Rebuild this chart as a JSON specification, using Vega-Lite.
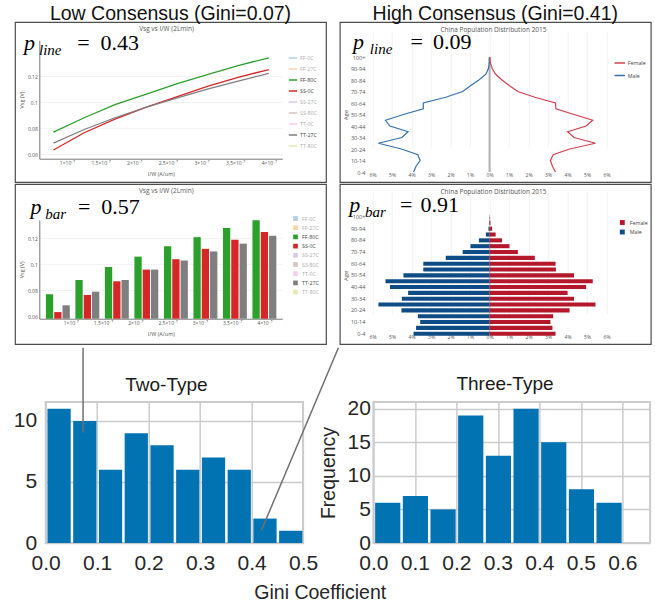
{
  "$schema": "https://vega.github.io/schema/vega-lite/v6.json",
  "padding": {"left": 12, "top": 2, "right": 0, "bottom": 0},
  "columns": 1,
  "align": "none",
  "spacing": 0,
  "resolve": {"scale": {"color": "independent"}, "legend": {"color": "independent"}},
  "config": {"view": {"stroke": null}, "font": "Open Sans"},
  "datasets": {
    "vsg": [
      {"iw": 8e-8, "series": "FF-80C", "vsg": 0.077},
      {"iw": 1.257e-7, "series": "FF-80C", "vsg": 0.088},
      {"iw": 1.714e-7, "series": "FF-80C", "vsg": 0.098},
      {"iw": 2.171e-7, "series": "FF-80C", "vsg": 0.106},
      {"iw": 2.629e-7, "series": "FF-80C", "vsg": 0.114},
      {"iw": 3.086e-7, "series": "FF-80C", "vsg": 0.121},
      {"iw": 3.543e-7, "series": "FF-80C", "vsg": 0.128},
      {"iw": 4e-7, "series": "FF-80C", "vsg": 0.134},
      {"iw": 8e-8, "series": "SS-0C", "vsg": 0.0633},
      {"iw": 1.257e-7, "series": "SS-0C", "vsg": 0.0765},
      {"iw": 1.714e-7, "series": "SS-0C", "vsg": 0.087},
      {"iw": 2.171e-7, "series": "SS-0C", "vsg": 0.096},
      {"iw": 2.629e-7, "series": "SS-0C", "vsg": 0.104},
      {"iw": 3.086e-7, "series": "SS-0C", "vsg": 0.112},
      {"iw": 3.543e-7, "series": "SS-0C", "vsg": 0.119},
      {"iw": 4e-7, "series": "SS-0C", "vsg": 0.125},
      {"iw": 8e-8, "series": "TT-27C", "vsg": 0.0685},
      {"iw": 1.257e-7, "series": "TT-27C", "vsg": 0.079},
      {"iw": 1.714e-7, "series": "TT-27C", "vsg": 0.088},
      {"iw": 2.171e-7, "series": "TT-27C", "vsg": 0.096},
      {"iw": 2.629e-7, "series": "TT-27C", "vsg": 0.103},
      {"iw": 3.086e-7, "series": "TT-27C", "vsg": 0.11},
      {"iw": 3.543e-7, "series": "TT-27C", "vsg": 0.116},
      {"iw": 4e-7, "series": "TT-27C", "vsg": 0.122}
    ],
    "pop": [
      {"age": "0-4", "sex": "Male", "pct": -3.9},
      {"age": "5-9", "sex": "Male", "pct": -3.77},
      {"age": "10-14", "sex": "Male", "pct": -3.56},
      {"age": "15-19", "sex": "Male", "pct": -3.68},
      {"age": "20-24", "sex": "Male", "pct": -4.52},
      {"age": "25-29", "sex": "Male", "pct": -5.7},
      {"age": "30-34", "sex": "Male", "pct": -4.5},
      {"age": "35-39", "sex": "Male", "pct": -4.18},
      {"age": "40-44", "sex": "Male", "pct": -5.11},
      {"age": "45-49", "sex": "Male", "pct": -5.34},
      {"age": "50-54", "sex": "Male", "pct": -4.42},
      {"age": "55-59", "sex": "Male", "pct": -3.4},
      {"age": "60-64", "sex": "Male", "pct": -3.4},
      {"age": "65-69", "sex": "Male", "pct": -2.25},
      {"age": "70-74", "sex": "Male", "pct": -1.38},
      {"age": "75-79", "sex": "Male", "pct": -0.98},
      {"age": "80-84", "sex": "Male", "pct": -0.55},
      {"age": "85-89", "sex": "Male", "pct": -0.19},
      {"age": "90-94", "sex": "Male", "pct": -0.06},
      {"age": "95-99", "sex": "Male", "pct": -0.02},
      {"age": "100+", "sex": "Male", "pct": -0.005},
      {"age": "0-4", "sex": "Female", "pct": 3.38},
      {"age": "5-9", "sex": "Female", "pct": 3.22},
      {"age": "10-14", "sex": "Female", "pct": 3.12},
      {"age": "15-19", "sex": "Female", "pct": 3.26},
      {"age": "20-24", "sex": "Female", "pct": 4.1},
      {"age": "25-29", "sex": "Female", "pct": 5.43},
      {"age": "30-34", "sex": "Female", "pct": 4.33},
      {"age": "35-39", "sex": "Female", "pct": 4.0},
      {"age": "40-44", "sex": "Female", "pct": 4.95},
      {"age": "45-49", "sex": "Female", "pct": 5.29},
      {"age": "50-54", "sex": "Female", "pct": 4.33},
      {"age": "55-59", "sex": "Female", "pct": 3.4},
      {"age": "60-64", "sex": "Female", "pct": 3.38},
      {"age": "65-69", "sex": "Female", "pct": 2.32},
      {"age": "70-74", "sex": "Female", "pct": 1.45},
      {"age": "75-79", "sex": "Female", "pct": 1.02},
      {"age": "80-84", "sex": "Female", "pct": 0.64},
      {"age": "85-89", "sex": "Female", "pct": 0.31},
      {"age": "90-94", "sex": "Female", "pct": 0.13},
      {"age": "95-99", "sex": "Female", "pct": 0.04},
      {"age": "100+", "sex": "Female", "pct": 0.01}
    ],
    "two": [
      {"gini_start": 0.0, "gini_end": 0.05, "count": 11},
      {"gini_start": 0.05, "gini_end": 0.1, "count": 10},
      {"gini_start": 0.1, "gini_end": 0.15, "count": 6},
      {"gini_start": 0.15, "gini_end": 0.2, "count": 9},
      {"gini_start": 0.2, "gini_end": 0.25, "count": 8},
      {"gini_start": 0.25, "gini_end": 0.3, "count": 6},
      {"gini_start": 0.3, "gini_end": 0.35, "count": 7},
      {"gini_start": 0.35, "gini_end": 0.4, "count": 6},
      {"gini_start": 0.4, "gini_end": 0.45, "count": 2},
      {"gini_start": 0.45, "gini_end": 0.5, "count": 1}
    ],
    "three": [
      {"gini_start": 0.0, "gini_end": 0.0667, "count": 6},
      {"gini_start": 0.0667, "gini_end": 0.1333, "count": 7},
      {"gini_start": 0.1333, "gini_end": 0.2, "count": 5},
      {"gini_start": 0.2, "gini_end": 0.2667, "count": 19},
      {"gini_start": 0.2667, "gini_end": 0.3333, "count": 13},
      {"gini_start": 0.3333, "gini_end": 0.4, "count": 20},
      {"gini_start": 0.4, "gini_end": 0.4667, "count": 15},
      {"gini_start": 0.4667, "gini_end": 0.5333, "count": 8},
      {"gini_start": 0.5333, "gini_end": 0.6, "count": 6}
    ]
  },
  "concat": [
    {
      "hconcat": [
        {
          "vconcat": [
            {
              "width": 311, "height": 160,
              "view": {"stroke": "#4d4d4d", "strokeWidth": 1.2},
              "title": {"text": "Low Consensus (Gini=0.07)", "font": "Liberation Sans", "fontSize": 19.5, "fontWeight": "normal", "color": "#111", "anchor": "middle", "offset": -2},
              "layer": [
                {
                  "data": {"name": "vsg"},
                  "mark": {"type": "line", "strokeWidth": 1.3},
                  "encoding": {
                    "x": {"field": "iw", "type": "quantitative",
                      "scale": {"domain": [5.9e-8, 4.2e-7], "range": [24.3, 267.3], "nice": false, "zero": false},
                      "axis": {"orient": "bottom", "offset": -23.3, "values": [1e-7, 1.5e-7, 2e-7, 2.5e-7, 3e-7, 3.5e-7, 4e-7], "tickCount": 20, "labelExpr": "(round(datum.value*1e8)/10) + '×10⁻⁷'", "labelFont": "Open Sans", "labelFontSize": 5, "labelColor": "#555", "labelPadding": 2, "labelFlush": false, "labelOverlap": false, "ticks": false, "domainColor": "#555", "domainWidth": 0.8, "grid": false, "title": "I/W (A/um)", "titleFont": "Open Sans", "titleFontSize": 5.5, "titleFontWeight": "normal", "titleColor": "#555", "titlePadding": 6}},
                    "y": {"field": "vsg", "type": "quantitative",
                      "scale": {"domain": [0.0566, 0.1474], "range": [136.7, 18.3], "nice": false, "zero": false},
                      "axis": {"orient": "left", "offset": -24.3, "values": [0.06, 0.08, 0.1, 0.12], "tickCount": 20, "format": "~g", "labelFont": "Open Sans", "labelFontSize": 5, "labelColor": "#555", "labelPadding": 2, "labelOverlap": false, "ticks": false, "domainColor": "#555", "domainWidth": 0.8, "grid": true, "gridColor": "#eeeeee", "gridWidth": 0.7, "title": "Vsg (V)", "titleFont": "Open Sans", "titleFontSize": 5.5, "titleFontWeight": "normal", "titleColor": "#555", "titlePadding": 3}},
                    "color": {"field": "series", "type": "nominal",
                      "scale": {"domain": ["FF-0C", "FF-27C", "FF-80C", "SS-0C", "SS-27C", "SS-80C", "TT-0C", "TT-27C", "TT-80C"], "range": ["#1f77b4", "#ff7f0e", "#2ca02c", "#d62728", "#9467bd", "#8c564b", "#e377c2", "#7f7f7f", "#bcbd22"]},
                      "legend": {"orient": "none", "legendX": 273, "legendY": 31, "title": null, "symbolType": "stroke", "symbolSize": 70, "symbolStrokeWidth": 1.5, "labelFont": "Open Sans", "labelFontSize": 5.3, "labelColor": "#444", "rowPadding": 2, "labelOffset": 2,
                        "encode": {"symbols": {"update": {"opacity": {"signal": "indexof(['FF-80C','SS-0C','TT-27C'], datum.value) >= 0 ? 1 : 0.35"}}}, "labels": {"update": {"opacity": {"signal": "indexof(['FF-80C','SS-0C','TT-27C'], datum.value) >= 0 ? 1 : 0.45"}}}}}}
                  }
                },
                {"data": {"values": [{}]}, "mark": {"type": "text", "text": "Vsg vs I/W (2Lmin)", "font": "Open Sans", "fontSize": 6.5, "color": "#555", "align": "center", "baseline": "middle"},
                  "encoding": {"x": {"datum": 2.48e-7}, "y": {"datum": 0.1561}}},
                {"data": {"values": [{}]}, "mark": {"type": "text", "text": "p", "font": "Liberation Serif", "fontStyle": "italic", "fontSize": 22, "align": "left", "baseline": "alphabetic", "color": "#000"},
                  "encoding": {"x": {"datum": 3.63e-8}, "y": {"datum": 0.1397}}},
                {"data": {"values": [{}]}, "mark": {"type": "text", "text": "line", "font": "Liberation Serif", "fontStyle": "italic", "fontSize": 15, "align": "left", "baseline": "alphabetic", "color": "#000", "dx": 15, "dy": 5},
                  "encoding": {"x": {"datum": 3.63e-8}, "y": {"datum": 0.1397}}},
                {"data": {"values": [{}]}, "mark": {"type": "text", "text": "=", "font": "Liberation Serif", "fontSize": 22, "align": "left", "baseline": "alphabetic", "color": "#000", "dx": 53.3},
                  "encoding": {"x": {"datum": 3.63e-8}, "y": {"datum": 0.1397}}},
                {"data": {"values": [{}]}, "mark": {"type": "text", "text": "0.43", "font": "Liberation Serif", "fontSize": 22, "align": "left", "baseline": "alphabetic", "color": "#000", "dx": 76.6},
                  "encoding": {"x": {"datum": 3.63e-8}, "y": {"datum": 0.1397}}}
              ]
            },
            {
              "width": 311, "height": 160,
              "view": {"stroke": "#4d4d4d", "strokeWidth": 1.2},
              "layer": [
                {
                  "data": {"name": "vsg"},
                  "transform": [{"filter": "datum.series === 'FF-80C'"}],
                  "mark": {"type": "bar", "size": 7.3, "xOffset": -8.3},
                  "encoding": {
                    "x": {"field": "iw", "type": "quantitative",
                      "scale": {"domain": [5.9e-8, 4.2e-7], "range": [24.3, 267.3], "nice": false, "zero": false},
                      "axis": {"orient": "bottom", "offset": -25.3, "values": [1e-7, 1.5e-7, 2e-7, 2.5e-7, 3e-7, 3.5e-7, 4e-7], "tickCount": 20, "labelExpr": "(round(datum.value*1e8)/10) + '×10⁻⁷'", "labelFont": "Open Sans", "labelFontSize": 5, "labelColor": "#555", "labelPadding": 2, "labelFlush": false, "labelOverlap": false, "ticks": false, "domainColor": "#555", "domainWidth": 0.8, "grid": false, "title": "I/W (A/um)", "titleFont": "Open Sans", "titleFontSize": 5.5, "titleFontWeight": "normal", "titleColor": "#555", "titlePadding": 6}},
                    "y": {"field": "vsg", "type": "quantitative",
                      "scale": {"domain": [0.0582, 0.1342], "range": [134.7, 36], "nice": false, "zero": false},
                      "axis": {"orient": "left", "offset": -24.3, "values": [0.06, 0.08, 0.1, 0.12], "tickCount": 20, "format": "~g", "labelFont": "Open Sans", "labelFontSize": 5, "labelColor": "#555", "labelPadding": 2, "labelOverlap": false, "ticks": false, "domainColor": "#555", "domainWidth": 0.8, "grid": true, "gridColor": "#eeeeee", "gridWidth": 0.7, "title": "Vsg (V)", "titleFont": "Open Sans", "titleFontSize": 5.5, "titleFontWeight": "normal", "titleColor": "#555", "titlePadding": 3}},
                    "y2": {"datum": 0.0582},
                    "color": {"field": "series", "type": "nominal",
                      "scale": {"domain": ["FF-0C", "FF-27C", "FF-80C", "SS-0C", "SS-27C", "SS-80C", "TT-0C", "TT-27C", "TT-80C"], "range": ["#1f77b4", "#ff7f0e", "#2ca02c", "#d62728", "#9467bd", "#8c564b", "#e377c2", "#7f7f7f", "#bcbd22"]},
                      "legend": {"orient": "none", "legendX": 277, "legendY": 31, "title": null, "symbolType": "square", "symbolSize": 22, "labelFont": "Open Sans", "labelFontSize": 5.3, "labelColor": "#444", "rowPadding": 2.2, "labelOffset": 3,
                        "encode": {"symbols": {"update": {"opacity": {"signal": "indexof(['FF-80C','SS-0C','TT-27C'], datum.value) >= 0 ? 1 : 0.35"}}}, "labels": {"update": {"opacity": {"signal": "indexof(['FF-80C','SS-0C','TT-27C'], datum.value) >= 0 ? 1 : 0.45"}}}}}}
                  }
                },
                {
                  "data": {"name": "vsg"},
                  "transform": [{"filter": "datum.series === 'SS-0C'"}],
                  "mark": {"type": "bar", "size": 7.3, "xOffset": 0},
                  "encoding": {
                    "x": {"field": "iw", "type": "quantitative"},
                    "y": {"field": "vsg", "type": "quantitative"},
                    "y2": {"datum": 0.0582},
                    "color": {"field": "series", "type": "nominal"}
                  }
                },
                {
                  "data": {"name": "vsg"},
                  "transform": [{"filter": "datum.series === 'TT-27C'"}],
                  "mark": {"type": "bar", "size": 7.3, "xOffset": 8.3},
                  "encoding": {
                    "x": {"field": "iw", "type": "quantitative"},
                    "y": {"field": "vsg", "type": "quantitative"},
                    "y2": {"datum": 0.0582},
                    "color": {"field": "series", "type": "nominal"}
                  }
                },
                {"data": {"values": [{}]}, "mark": {"type": "text", "text": "Vsg vs I/W (2Lmin)", "font": "Open Sans", "fontSize": 6.5, "color": "#555", "align": "center", "baseline": "middle"},
                  "encoding": {"x": {"datum": 2.48e-7}, "y": {"datum": 0.1565}}},
                {"data": {"values": [{}]}, "mark": {"type": "text", "text": "p", "font": "Liberation Serif", "fontStyle": "italic", "fontSize": 22, "align": "left", "baseline": "alphabetic", "color": "#000"},
                  "encoding": {"x": {"datum": 3.78e-8}, "y": {"datum": 0.1391}}},
                {"data": {"values": [{}]}, "mark": {"type": "text", "text": "bar", "font": "Liberation Serif", "fontStyle": "italic", "fontSize": 15, "align": "left", "baseline": "alphabetic", "color": "#000", "dx": 14.6, "dy": 5},
                  "encoding": {"x": {"datum": 3.78e-8}, "y": {"datum": 0.1391}}},
                {"data": {"values": [{}]}, "mark": {"type": "text", "text": "=", "font": "Liberation Serif", "fontSize": 22, "align": "left", "baseline": "alphabetic", "color": "#000", "dx": 47.3},
                  "encoding": {"x": {"datum": 3.78e-8}, "y": {"datum": 0.1391}}},
                {"data": {"values": [{}]}, "mark": {"type": "text", "text": "0.57", "font": "Liberation Serif", "fontSize": 22, "align": "left", "baseline": "alphabetic", "color": "#000", "dx": 70.6},
                  "encoding": {"x": {"datum": 3.78e-8}, "y": {"datum": 0.1391}}}
              ]
            }
          ],
          "spacing": 2,
          "bounds": "flush",
          "resolve": {"scale": {"color": "independent"}, "legend": {"color": "independent"}}
        },
        {
          "vconcat": [
            {
              "width": 311, "height": 160,
              "view": {"stroke": "#4d4d4d", "strokeWidth": 1.2},
              "title": {"text": "High Consensus (Gini=0.41)", "font": "Liberation Sans", "fontSize": 19.5, "fontWeight": "normal", "color": "#111", "anchor": "middle", "offset": -2},
              "layer": [
                {"data": {"values": [{}]}, "mark": {"type": "rule", "color": "#b0b0b0", "strokeWidth": 2},
                  "encoding": {"x": {"datum": 0}, "y": {"datum": "100+", "type": "ordinal"}, "y2": {"datum": "0-4"}}},
                {
                  "data": {"name": "pop"},
                  "mark": {"type": "line", "strokeWidth": 1.2},
                  "encoding": {
                    "x": {"field": "pct", "type": "quantitative",
                      "scale": {"domain": [-6.3, 6.3], "range": [26.95, 272.65], "nice": false, "zero": false},
                      "axis": {"orient": "bottom", "offset": -11, "values": [-6, -5, -4, -3, -2, -1, 0, 1, 2, 3, 4, 5, 6], "tickCount": 20, "labelExpr": "abs(datum.value) + '%'", "labelFont": "Open Sans", "labelFontSize": 5, "labelColor": "#555", "labelPadding": 1, "labelFlush": false, "labelOverlap": false, "ticks": false, "domain": false, "grid": true, "gridColor": "#f0f0f0", "gridWidth": 0.8, "title": null}},
                    "y": {"field": "age", "type": "ordinal",
                      "scale": {"type": "point", "domain": ["0-4", "5-9", "10-14", "15-19", "20-24", "25-29", "30-34", "35-39", "40-44", "45-49", "50-54", "55-59", "60-64", "65-69", "70-74", "75-79", "80-84", "85-89", "90-94", "95-99", "100+"], "range": [150, 35], "padding": 0},
                      "axis": {"orient": "left", "offset": -27, "values": ["0-4", "10-14", "20-24", "30-34", "40-44", "50-54", "60-64", "70-74", "80-84", "90-94", "100+"], "labelFont": "Open Sans", "labelFontSize": 5.5, "labelColor": "#555", "labelPadding": 2, "labelOverlap": false, "ticks": false, "domain": false, "grid": false, "title": "Age", "titleFont": "Open Sans", "titleFontSize": 6, "titleFontWeight": "normal", "titleColor": "#555", "titlePadding": 2}},
                    "color": {"field": "sex", "type": "nominal",
                      "scale": {"domain": ["Female", "Male"], "range": ["#d3414f", "#3672aa"]},
                      "legend": {"orient": "none", "legendX": 274, "legendY": 35, "title": null, "symbolType": "stroke", "symbolSize": 110, "symbolStrokeWidth": 1.5, "labelFont": "Open Sans", "labelFontSize": 5.3, "labelColor": "#444", "rowPadding": 2.5, "labelOffset": 2}},
                    "order": {"value": null}
                  }
                },
                {"data": {"values": [{}]}, "mark": {"type": "text", "text": "China Population Distribution 2015", "font": "Open Sans", "fontSize": 6.5, "color": "#555", "align": "center", "baseline": "middle", "dy": -27},
                  "encoding": {"x": {"datum": 0.2}, "y": {"datum": "100+", "type": "ordinal"}}},
                {"data": {"values": [{}]}, "mark": {"type": "text", "text": "p", "font": "Liberation Serif", "fontStyle": "italic", "fontSize": 22, "align": "left", "baseline": "alphabetic", "color": "#000", "dy": -8.3},
                  "encoding": {"x": {"datum": -7.0}, "y": {"datum": "100+", "type": "ordinal"}}},
                {"data": {"values": [{}]}, "mark": {"type": "text", "text": "line", "font": "Liberation Serif", "fontStyle": "italic", "fontSize": 15, "align": "left", "baseline": "alphabetic", "color": "#000", "dx": 16.7, "dy": -3.3},
                  "encoding": {"x": {"datum": -7.0}, "y": {"datum": "100+", "type": "ordinal"}}},
                {"data": {"values": [{}]}, "mark": {"type": "text", "text": "=", "font": "Liberation Serif", "fontSize": 22, "align": "left", "baseline": "alphabetic", "color": "#000", "dx": 57.3, "dy": -8.3},
                  "encoding": {"x": {"datum": -7.0}, "y": {"datum": "100+", "type": "ordinal"}}},
                {"data": {"values": [{}]}, "mark": {"type": "text", "text": "0.09", "font": "Liberation Serif", "fontSize": 22, "align": "left", "baseline": "alphabetic", "color": "#000", "dx": 80, "dy": -8.3},
                  "encoding": {"x": {"datum": -7.0}, "y": {"datum": "100+", "type": "ordinal"}}}
              ]
            },
            {
              "width": 311, "height": 160,
              "view": {"stroke": "#4d4d4d", "strokeWidth": 1.2},
              "layer": [
                {"data": {"values": [{}]}, "mark": {"type": "rule", "color": "#c8c8c8", "strokeWidth": 1.5},
                  "encoding": {"x": {"datum": 0}, "y": {"datum": "100+", "type": "ordinal"}, "y2": {"datum": "0-4"}}},
                {
                  "data": {"name": "pop"},
                  "mark": {"type": "bar"},
                  "encoding": {
                    "x": {"field": "pct", "type": "quantitative",
                      "scale": {"domain": [-6.3, 6.3], "range": [26.95, 272.65], "nice": false, "zero": false},
                      "axis": {"orient": "bottom", "offset": -11, "values": [-6, -5, -4, -3, -2, -1, 0, 1, 2, 3, 4, 5, 6], "tickCount": 20, "labelExpr": "abs(datum.value) + '%'", "labelFont": "Open Sans", "labelFontSize": 5, "labelColor": "#555", "labelPadding": 1, "labelFlush": false, "labelOverlap": false, "ticks": false, "domain": false, "grid": true, "gridColor": "#f0f0f0", "gridWidth": 0.8, "title": null}},
                    "x2": {"datum": 0},
                    "y": {"field": "age", "type": "ordinal",
                      "scale": {"type": "band", "domain": ["0-4", "5-9", "10-14", "15-19", "20-24", "25-29", "30-34", "35-39", "40-44", "45-49", "50-54", "55-59", "60-64", "65-69", "70-74", "75-79", "80-84", "85-89", "90-94", "95-99", "100+"], "range": [152.6, 30.1], "paddingInner": 0.3, "paddingOuter": 0.15},
                      "axis": {"orient": "left", "offset": -27, "values": ["0-4", "10-14", "20-24", "30-34", "40-44", "50-54", "60-64", "70-74", "80-84", "90-94", "100+"], "labelFont": "Open Sans", "labelFontSize": 5.5, "labelColor": "#555", "labelPadding": 2, "labelOverlap": false, "ticks": false, "domain": false, "grid": false, "title": "Age", "titleFont": "Open Sans", "titleFontSize": 6, "titleFontWeight": "normal", "titleColor": "#555", "titlePadding": 2}},
                    "color": {"field": "sex", "type": "nominal",
                      "scale": {"domain": ["Female", "Male"], "range": ["#b5172b", "#0f4c85"]},
                      "legend": {"orient": "none", "legendX": 279, "legendY": 35, "title": null, "symbolType": "square", "symbolSize": 24, "labelFont": "Open Sans", "labelFontSize": 5.3, "labelColor": "#444", "rowPadding": 2.5, "labelOffset": 4}}
                  }
                },
                {"data": {"values": [{}]}, "mark": {"type": "text", "text": "China Population Distribution 2015", "font": "Open Sans", "fontSize": 6.5, "color": "#555", "align": "center", "baseline": "middle", "dy": -25},
                  "encoding": {"x": {"datum": 0.2}, "y": {"datum": "100+", "type": "ordinal"}}},
                {"data": {"values": [{}]}, "mark": {"type": "text", "text": "p", "font": "Liberation Serif", "fontStyle": "italic", "fontSize": 22, "align": "left", "baseline": "alphabetic", "color": "#000", "dy": -5},
                  "encoding": {"x": {"datum": -7.2}, "y": {"datum": "100+", "type": "ordinal"}}},
                {"data": {"values": [{}]}, "mark": {"type": "text", "text": "bar", "font": "Liberation Serif", "fontStyle": "italic", "fontSize": 15, "align": "left", "baseline": "alphabetic", "color": "#000", "dx": 15.7, "dy": 0},
                  "encoding": {"x": {"datum": -7.2}, "y": {"datum": "100+", "type": "ordinal"}}},
                {"data": {"values": [{}]}, "mark": {"type": "text", "text": "=", "font": "Liberation Serif", "fontSize": 22, "align": "left", "baseline": "alphabetic", "color": "#000", "dx": 50.7, "dy": -5},
                  "encoding": {"x": {"datum": -7.2}, "y": {"datum": "100+", "type": "ordinal"}}},
                {"data": {"values": [{}]}, "mark": {"type": "text", "text": "0.91", "font": "Liberation Serif", "fontSize": 22, "align": "left", "baseline": "alphabetic", "color": "#000", "dx": 71.3, "dy": -5},
                  "encoding": {"x": {"datum": -7.2}, "y": {"datum": "100+", "type": "ordinal"}}}
              ]
            }
          ],
          "spacing": 2,
          "bounds": "flush",
          "resolve": {"scale": {"color": "independent"}, "legend": {"color": "independent"}}
        }
      ],
      "spacing": 11.8,
      "resolve": {"scale": {"color": "independent"}, "legend": {"color": "independent"}}
    },
    {
      "hconcat": [
        {
          "width": 20.25, "height": 1,
          "view": {"stroke": null},
          "data": {"values": [{}]},
          "mark": {"type": "point", "opacity": 0},
          "encoding": {}
        },
        {
          "width": 257.4, "height": 141,
          "view": {"stroke": "#cccccc", "strokeWidth": 2},
          "layer": [
            {
              "data": {"name": "two"},
              "mark": {"type": "bar", "color": "#0173b2", "binSpacing": 2.5},
              "encoding": {
                "x": {"field": "gini_start", "type": "quantitative", "bin": "binned",
                  "scale": {"domain": [0, 0.5], "nice": false, "zero": false},
                  "axis": {"values": [0, 0.1, 0.2, 0.3, 0.4, 0.5], "tickCount": 20, "format": ".1f", "labelFont": "Liberation Sans", "labelFontSize": 21, "labelColor": "#262626", "labelPadding": 9, "labelFlush": false, "labelOverlap": false, "ticks": false, "domain": false, "grid": true, "gridColor": "#cccccc", "gridWidth": 1.5, "title": null}},
                "x2": {"field": "gini_end"},
                "y": {"field": "count", "type": "quantitative",
                  "scale": {"domain": [0, 11.55], "nice": false, "zero": false},
                  "axis": {"values": [0, 5, 10], "tickCount": 20, "format": "d", "labelFont": "Liberation Sans", "labelFontSize": 21, "labelColor": "#262626", "labelPadding": 9, "labelOverlap": false, "ticks": false, "domain": false, "grid": true, "gridColor": "#cccccc", "gridWidth": 1.5, "title": null}}
              }
            },
            {"data": {"values": [{}]}, "mark": {"type": "text", "text": "Two-Type", "font": "Liberation Sans", "fontSize": 19, "color": "#1a1a1a", "align": "center", "baseline": "alphabetic"},
              "encoding": {"x": {"datum": 0.2345}, "y": {"datum": 12.49}}},
            {"data": {"values": [{}]}, "mark": {"type": "rule", "color": "#707070", "strokeWidth": 1.5},
              "encoding": {"x": {"datum": 0.0726}, "y": {"datum": 9.06}, "y2": {"datum": 16.0}}},
            {"data": {"values": [{}]}, "mark": {"type": "rule", "color": "#707070", "strokeWidth": 1.5},
              "encoding": {"x": {"datum": 0.419}, "y": {"datum": 1.03}, "x2": {"datum": 0.5686}, "y2": {"datum": 16.0}}}
          ]
        },
        {
          "width": 276.7, "height": 141,
          "view": {"stroke": "#cccccc", "strokeWidth": 2},
          "layer": [
            {
              "data": {"name": "three"},
              "mark": {"type": "bar", "color": "#0173b2", "binSpacing": 2.5},
              "encoding": {
                "x": {"field": "gini_start", "type": "quantitative", "bin": "binned",
                  "scale": {"domain": [0, 0.6667], "nice": false, "zero": false},
                  "axis": {"values": [0, 0.1, 0.2, 0.3, 0.4, 0.5, 0.6], "tickCount": 20, "format": ".1f", "labelFont": "Liberation Sans", "labelFontSize": 21, "labelColor": "#262626", "labelPadding": 9, "labelFlush": false, "labelOverlap": false, "ticks": false, "domain": false, "grid": true, "gridColor": "#cccccc", "gridWidth": 1.5, "title": null}},
                "x2": {"field": "gini_end"},
                "y": {"field": "count", "type": "quantitative",
                  "scale": {"domain": [0, 21], "nice": false, "zero": false},
                  "axis": {"values": [0, 5, 10, 15, 20], "tickCount": 20, "format": "d", "labelFont": "Liberation Sans", "labelFontSize": 21, "labelColor": "#262626", "labelPadding": 3, "labelOverlap": false, "ticks": false, "domain": false, "grid": true, "gridColor": "#cccccc", "gridWidth": 1.5, "title": "Frequency", "titleFont": "Liberation Sans", "titleFontSize": 19.5, "titleFontWeight": "normal", "titleColor": "#262626", "titlePadding": 9}}
              }
            },
            {"data": {"values": [{}]}, "mark": {"type": "text", "text": "Three-Type", "font": "Liberation Sans", "fontSize": 19, "color": "#1a1a1a", "align": "center", "baseline": "alphabetic"},
              "encoding": {"x": {"datum": 0.317}, "y": {"datum": 22.86}}}
          ]
        }
      ],
      "spacing": -24.3,
      "title": {"text": "Gini Coefficient", "orient": "bottom", "anchor": "middle", "font": "Liberation Sans", "fontSize": 19.5, "fontWeight": "normal", "color": "#262626", "dx": -11.5, "offset": 10}
    }
  ]
}
